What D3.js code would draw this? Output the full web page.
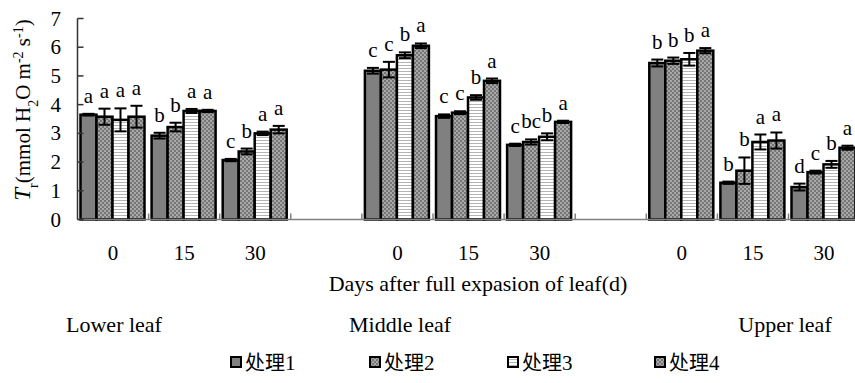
<!DOCTYPE html>
<html lang="en">
<head>
  <meta charset="UTF-8">
  <title>Tr by leaf position</title>
  <script src="https://d3js.org/d3.v7.min.js"></script>
  <style>
    body { margin: 0; background: #fff; }
    svg text { font-family: "Liberation Serif", "Times New Roman", serif; }
    svg tspan.cjk { font-family: "Noto Sans CJK SC", sans-serif; }
  </style>
</head>
<body>
  <svg width="855" height="383"></svg>
  <script>
    // categories: 3 days per leaf position, with an empty slot between leaf groups
    const categories = ["L0", "L15", "L30", "gap1", "M0", "M15", "M30", "gap2", "U0", "U15", "U30"];
    const dayLabels = ["0", "15", "30", "", "0", "15", "30", "", "0", "15", "30"];
    const series = ["处理1", "处理2", "处理3", "处理4"];
    const yTicks = [0, 1, 2, 3, 4, 5, 6, 7];

    // means per series (in category order, null for the gaps)
    const t1 = [3.65, 2.92, 2.07, null, 5.18, 3.60, 2.60, null, 5.45, 1.28, 1.13];
    const t2 = [3.58, 3.22, 2.37, null, 5.22, 3.72, 2.70, null, 5.53, 1.70, 1.65];
    const t3 = [3.47, 3.78, 3.00, null, 5.72, 4.25, 2.88, null, 5.58, 2.70, 1.92];
    const t4 = [3.58, 3.78, 3.13, null, 6.05, 4.83, 3.40, null, 5.88, 2.75, 2.50];
    // standard errors
    const e1 = [0.03, 0.10, 0.04, null, 0.10, 0.06, 0.04, null, 0.12, 0.04, 0.12];
    const e2 = [0.28, 0.15, 0.10, null, 0.27, 0.05, 0.09, null, 0.11, 0.46, 0.05];
    const e3 = [0.40, 0.07, 0.06, null, 0.10, 0.08, 0.12, null, 0.22, 0.26, 0.12];
    const e4 = [0.38, 0.04, 0.13, null, 0.08, 0.08, 0.04, null, 0.09, 0.28, 0.07];
    // significance letters
    const s1 = ["a", "b", "c", null, "c", "c", "c", null, "b", "b", "d"];
    const s2 = ["a", "b", "b", null, "c", "c", "bc", null, "b", "b", "c"];
    const s3 = ["a", "a", "a", null, "b", "b", "b", null, "b", "a", "b"];
    const s4 = ["a", "a", "a", null, "a", "a", "a", null, "a", "a", "a"];

    const means = [t1, t2, t3, t4];
    const errs = [e1, e2, e3, e4];
    const sigs = [s1, s2, s3, s4];
    const fills = ["#808080", "url(#checker)", "url(#stripes)", "url(#checker)"];

    const svg = d3.select("svg");

    const defs = svg.append("defs");
    const checker = defs.append("pattern").attr("id", "checker")
      .attr("patternUnits", "userSpaceOnUse").attr("width", 4).attr("height", 4);
    checker.append("rect").attr("width", 4).attr("height", 4).attr("fill", "#a8a8a8");
    checker.append("rect").attr("width", 2).attr("height", 2).attr("fill", "#767676");
    checker.append("rect").attr("x", 2).attr("y", 2).attr("width", 2).attr("height", 2).attr("fill", "#767676");
    const stripes = defs.append("pattern").attr("id", "stripes")
      .attr("patternUnits", "userSpaceOnUse").attr("width", 3).attr("height", 3);
    stripes.append("rect").attr("width", 3).attr("height", 3).attr("fill", "#fff");
    stripes.append("rect").attr("y", 2).attr("width", 3).attr("height", 1).attr("fill", "#b4b4b4");

    const x0 = 77.5;
    const x = d3.scaleBand().domain(categories).range([x0, x0 + 11 * 71.1]);
    const xs = d3.scaleBand().domain(series).range([3, 67]);
    const y = d3.scaleLinear().domain([0, 7]).range([219.5, 18.5]);

    // bars
    const rows = [];
    categories.forEach((c, i) => {
      series.forEach((s, j) => {
        if (means[j][i] != null) {
          rows.push({ cat: c, ser: s, j, v: means[j][i], e: errs[j][i], sig: sigs[j][i] });
        }
      });
    });

    svg.append("g").selectAll("rect")
      .data(rows)
      .enter().append("rect")
      .attr("x", d => x(d.cat) + xs(d.ser))
      .attr("y", d => y(d.v))
      .attr("width", xs.bandwidth())
      .attr("height", d => y(0) - y(d.v))
      .attr("fill", d => fills[d.j])
      .attr("stroke", "#000")
      .attr("stroke-width", 2.5);

    // error bars
    const eb = svg.append("g").attr("stroke", "#000").attr("stroke-width", 2);
    rows.forEach(d => {
      const cx = x(d.cat) + xs(d.ser) + xs.bandwidth() / 2;
      eb.append("line").attr("x1", cx).attr("x2", cx)
        .attr("y1", y(d.v - d.e)).attr("y2", y(d.v + d.e));
      [d.v - d.e, d.v + d.e].forEach(v => {
        eb.append("line").attr("x1", cx - 6).attr("x2", cx + 6)
          .attr("y1", y(v)).attr("y2", y(v));
      });
    });

    // letters
    svg.append("g").selectAll("text")
      .data(rows)
      .enter().append("text")
      .attr("x", d => x(d.cat) + xs(d.ser) + xs.bandwidth() / 2)
      .attr("y", d => y(d.v + d.e) - 11)
      .attr("text-anchor", "middle")
      .style("font-size", "21px")
      .text(d => d.sig);

    // x axis
    const xa = svg.append("g").attr("stroke", "#808080").attr("stroke-width", 1.5);
    xa.append("line").attr("x1", x0).attr("x2", x.range()[1]).attr("y1", y(0)).attr("y2", y(0));
    categories.forEach(c => {
      const bx = x(c) + x.bandwidth();
      xa.append("line").attr("x1", bx).attr("x2", bx).attr("y1", y(0)).attr("y2", y(0) - 6);
    });
    svg.append("g").selectAll("text")
      .data(categories)
      .enter().append("text")
      .attr("x", c => x(c) + x.bandwidth() / 2)
      .attr("y", 260)
      .attr("text-anchor", "middle")
      .style("font-size", "21px")
      .text((c, i) => dayLabels[i]);

    // y axis
    const ya = svg.append("g").attr("stroke", "#333").attr("stroke-width", 1.5);
    ya.append("line").attr("x1", x0).attr("x2", x0).attr("y1", y(0)).attr("y2", y(7));
    yTicks.forEach(t => {
      ya.append("line").attr("x1", x0).attr("x2", x0 + 6).attr("y1", y(t)).attr("y2", y(t));
    });
    svg.append("g").selectAll("text")
      .data(yTicks)
      .enter().append("text")
      .attr("x", 61)
      .attr("y", t => y(t) + 7)
      .attr("text-anchor", "end")
      .style("font-size", "21px")
      .text(t => t);

    // y title
    const yt = svg.append("text")
      .attr("transform", "translate(30,110) rotate(-90)")
      .attr("text-anchor", "middle")
      .style("font-size", "21px");
    yt.append("tspan").style("font-style", "italic").style("font-size", "23px").text("T");
    yt.append("tspan").attr("baseline-shift", "sub").style("font-size", "14px").text("r");
    yt.append("tspan").text("(mmol H");
    yt.append("tspan").attr("baseline-shift", "sub").style("font-size", "14px").text("2");
    yt.append("tspan").text("O m");
    yt.append("tspan").attr("baseline-shift", "super").style("font-size", "14px").text("-2");
    yt.append("tspan").text(" s");
    yt.append("tspan").attr("baseline-shift", "super").style("font-size", "14px").text("-1");
    yt.append("tspan").text(")");

    // x titles
    svg.append("text").attr("x", 478).attr("y", 291).attr("text-anchor", "middle")
      .style("font-size", "22px").text("Days after full expasion of leaf(d)");
    const groups = [["Lower leaf", 114], ["Middle leaf", 400], ["Upper leaf", 785]];
    groups.forEach(g => {
      svg.append("text").attr("x", g[1]).attr("y", 332).attr("text-anchor", "middle")
        .style("font-size", "22px").text(g[0]);
    });

    // legend
    const legendX = [231, 370, 508, 655];
    const lg = svg.append("g").selectAll("g")
      .data(series)
      .enter().append("g")
      .attr("transform", (d, i) => `translate(${legendX[i]},357)`);
    lg.append("rect").attr("width", 10).attr("height", 10)
      .attr("fill", (d, i) => fills[i]).attr("stroke", "#000").attr("stroke-width", 2);
    const lt = lg.append("text").attr("x", 14).attr("y", 13).style("font-size", "21px");
    lt.append("tspan").attr("class", "cjk").style("font-size", "20px").text(d => d.slice(0, 2));
    lt.append("tspan").text(d => d.slice(2));
  </script>
</body>
</html>
